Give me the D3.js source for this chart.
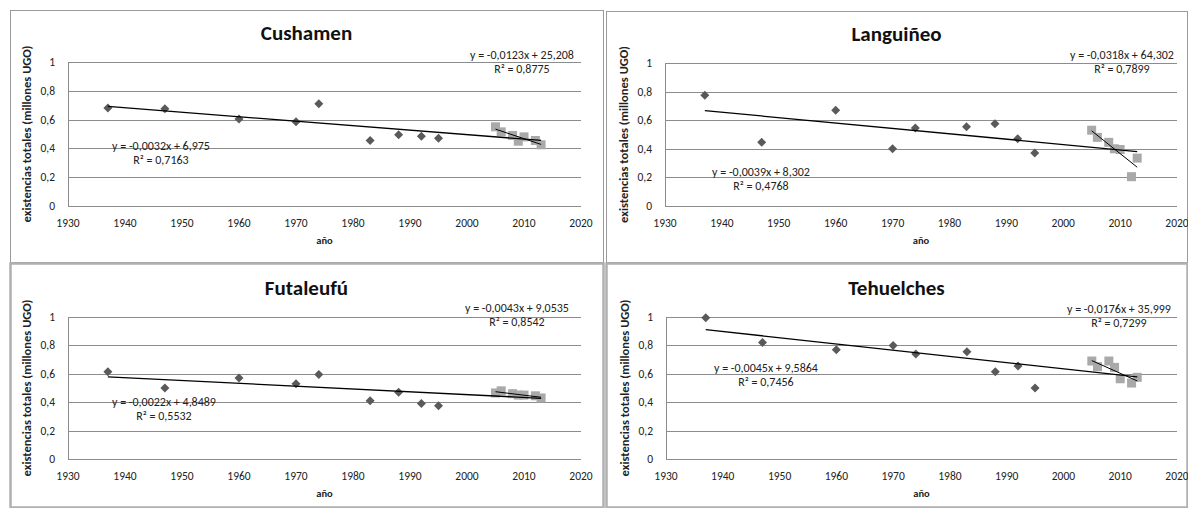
<!DOCTYPE html>
<html>
<head>
<meta charset="utf-8">
<script src="https://cdnjs.cloudflare.com/ajax/libs/d3/7.8.5/d3.min.js"></script>
<style>
  body { margin: 0; background: #fff; }
  svg { display: block; font-family: Carlito, Calibri, Lato, sans-serif; }
</style>
</head>
<body>
<script>
// data
var districts = ["Cushamen", "Languiñeo", "Futaleufú", "Tehuelches"];
var histYears = [1937, 1947, 1960, 1970, 1974, 1983, 1988, 1992, 1995];
var recentYears = [2005, 2006, 2008, 2009, 2010, 2012, 2013];

var cushamenHist   = [0.68, 0.675, 0.605, 0.585, 0.71, 0.455, 0.495, 0.485, 0.47];
var cushamenRecent = [0.55, 0.515, 0.49, 0.45, 0.48, 0.455, 0.425];
var languineoHist   = [0.775, 0.445, 0.67, 0.40, 0.545, 0.555, 0.575, 0.47, 0.37];
var languineoRecent = [0.53, 0.48, 0.445, 0.40, 0.395, 0.205, 0.335];
var futaleufuHist   = [0.615, 0.50, 0.57, 0.53, 0.595, 0.41, 0.47, 0.39, 0.375];
var futaleufuRecent = [0.465, 0.48, 0.46, 0.45, 0.45, 0.445, 0.43];
var tehuelchesHist   = [0.995, 0.82, 0.77, 0.80, 0.74, 0.755, 0.615, 0.655, 0.50];
var tehuelchesRecent = [0.69, 0.65, 0.69, 0.645, 0.565, 0.535, 0.575];

var histSeries = [cushamenHist, languineoHist, futaleufuHist, tehuelchesHist];
var recentSeries = [cushamenRecent, languineoRecent, futaleufuRecent, tehuelchesRecent];

var longEquations = ["y = -0,0032x + 6,975", "y = -0,0039x + 8,302", "y = -0,0022x + 4,8489", "y = -0,0045x + 9,5864"];
var longR2 = ["R² = 0,7163", "R² = 0,4768", "R² = 0,5532", "R² = 0,7456"];
var shortEquations = ["y = -0,0123x + 25,208", "y = -0,0318x + 64,302", "y = -0,0043x + 9,0535", "y = -0,0176x + 35,999"];
var shortR2 = ["R² = 0,8775", "R² = 0,7899", "R² = 0,8542", "R² = 0,7299"];

var xTicks = [1930, 1940, 1950, 1960, 1970, 1980, 1990, 2000, 2010, 2020];
var yTicks = [0, 0.2, 0.4, 0.6, 0.8, 1];
var yTitle = "existencias totales (millones UGO)";
var xTitle = "año";

// layout of the four panels (frame + plot area)
var panels = [
  {fx: 10,  fy: 10,  fw: 593, fh: 252, px: 68,  py: 62,  pw: 513, ph: 144, eqL: [93, 84],  eqR: [454, -7]},
  {fx: 606, fy: 11,  fw: 581, fh: 251, px: 665, py: 63,  pw: 512, ph: 143, eqL: [96, 109], eqR: [457, -8]},
  {fx: 10,  fy: 263, fw: 593, fh: 244, px: 68,  py: 317, pw: 513, ph: 142, eqL: [96, 85],  eqR: [449, -9]},
  {fx: 606, fy: 263, fw: 581, fh: 244, px: 666, py: 317, pw: 511, ph: 142, eqL: [100, 51], eqR: [453, -8]}
];

var fmt = function(d){ return String(d).replace(".", ","); };

function fit(xs, ys){
  var n = xs.length, mx = d3.mean(xs), my = d3.mean(ys), sxy = 0, sxx = 0;
  for (var i = 0; i < n; i++){ sxy += (xs[i]-mx)*(ys[i]-my); sxx += (xs[i]-mx)*(xs[i]-mx); }
  var b = sxy / sxx;
  return function(x){ return my + b*(x - mx); };
}

var svg = d3.select("body").append("svg").attr("width", 1188).attr("height", 508);

panels.forEach(function(p, k){
  svg.append("rect")
    .attr("x", p.fx + 0.5).attr("y", p.fy + 0.5)
    .attr("width", p.fw).attr("height", p.fh)
    .attr("fill", "#fff").attr("stroke", k > 1 ? "#b0b0b0" : "#9a9a9a").attr("stroke-width", k > 1 ? 2.5 : 1);

  var x = d3.scaleLinear().domain([1930, 2020]).range([0, p.pw]);
  var y = d3.scaleLinear().domain([0, 1]).range([p.ph, 0]);

  var g = svg.append("g").attr("transform", "translate(" + p.px + "," + p.py + ")");

  // gridlines
  g.selectAll(".grid").data(yTicks).enter().append("line")
    .attr("x1", 0).attr("x2", p.pw)
    .attr("y1", function(d){ return Math.round(y(d)) + 0.5; })
    .attr("y2", function(d){ return Math.round(y(d)) + 0.5; })
    .attr("stroke", "#8c8c8c").attr("stroke-width", 1);
  g.append("line").attr("x1", 0.5).attr("x2", 0.5).attr("y1", 0).attr("y2", p.ph)
    .attr("stroke", "#8c8c8c");

  // tick labels
  g.selectAll(".yt").data(yTicks).enter().append("text")
    .attr("x", -13).attr("y", function(d){ return y(d) + 4; })
    .attr("text-anchor", "end").attr("font-size", 11.5).attr("fill", "#222")
    .text(fmt);
  g.selectAll(".xt").data(xTicks).enter().append("text")
    .attr("x", function(d){ return x(d); }).attr("y", p.ph + 21)
    .attr("text-anchor", "middle").attr("font-size", 11.5).attr("fill", "#222")
    .text(function(d){ return d; });

  // titles
  svg.append("text")
    .attr("x", p.fx + p.fw/2).attr("y", p.py - 22)
    .attr("text-anchor", "middle").attr("font-size", 21).attr("font-weight", "bold").attr("fill", "#111")
    .text(districts[k]);
  g.append("text")
    .attr("x", p.pw/2).attr("y", p.ph + 38)
    .attr("text-anchor", "middle").attr("font-size", 10.5).attr("font-weight", "bold").attr("fill", "#222")
    .text(xTitle);
  g.append("text")
    .attr("transform", "translate(-37," + (p.ph/2) + ") rotate(-90)")
    .attr("text-anchor", "middle").attr("font-size", 12.5).attr("font-weight", "bold").attr("fill", "#222")
    .text(yTitle);

  // trend lines (Excel-style least squares)
  var allYears = histYears.concat(recentYears);
  var allVals = histSeries[k].concat(recentSeries[k]);
  var longFit = fit(allYears, allVals);
  var shortFit = fit(recentYears, recentSeries[k]);

  // markers
  g.selectAll(".dia").data(histYears).enter().append("path")
    .attr("d", "M0,-4.5L4.5,0L0,4.5L-4.5,0Z")
    .attr("transform", function(d, i){ return "translate(" + x(d) + "," + y(histSeries[k][i]) + ")"; })
    .attr("fill", "#5a5a5a");
  g.selectAll(".sq").data(recentYears).enter().append("rect")
    .attr("x", function(d){ return x(d) - 4.5; })
    .attr("y", function(d, i){ return y(recentSeries[k][i]) - 4.5; })
    .attr("width", 9).attr("height", 9)
    .attr("fill", "#a9a9a9");

  var x0 = d3.min(allYears), x1 = d3.max(allYears);
  g.append("line")
    .attr("x1", x(x0)).attr("y1", y(longFit(x0)))
    .attr("x2", x(x1)).attr("y2", y(longFit(x1)))
    .attr("stroke", "#000").attr("stroke-width", 1.3);
  var r0 = d3.min(recentYears), r1 = d3.max(recentYears);
  g.append("line")
    .attr("x1", x(r0)).attr("y1", y(shortFit(r0)))
    .attr("x2", x(r1)).attr("y2", y(shortFit(r1)))
    .attr("stroke", "#000").attr("stroke-width", 1);

  // equation labels
  [[p.eqL, longEquations[k], longR2[k]], [p.eqR, shortEquations[k], shortR2[k]]].forEach(function(e){
    g.append("text").attr("x", e[0][0]).attr("y", e[0][1] + 4)
      .attr("text-anchor", "middle").attr("font-size", 12).attr("fill", "#222").text(e[1]);
    g.append("text").attr("x", e[0][0]).attr("y", e[0][1] + 18)
      .attr("text-anchor", "middle").attr("font-size", 12).attr("fill", "#222").text(e[2]);
  });
});
</script>
</body>
</html>
